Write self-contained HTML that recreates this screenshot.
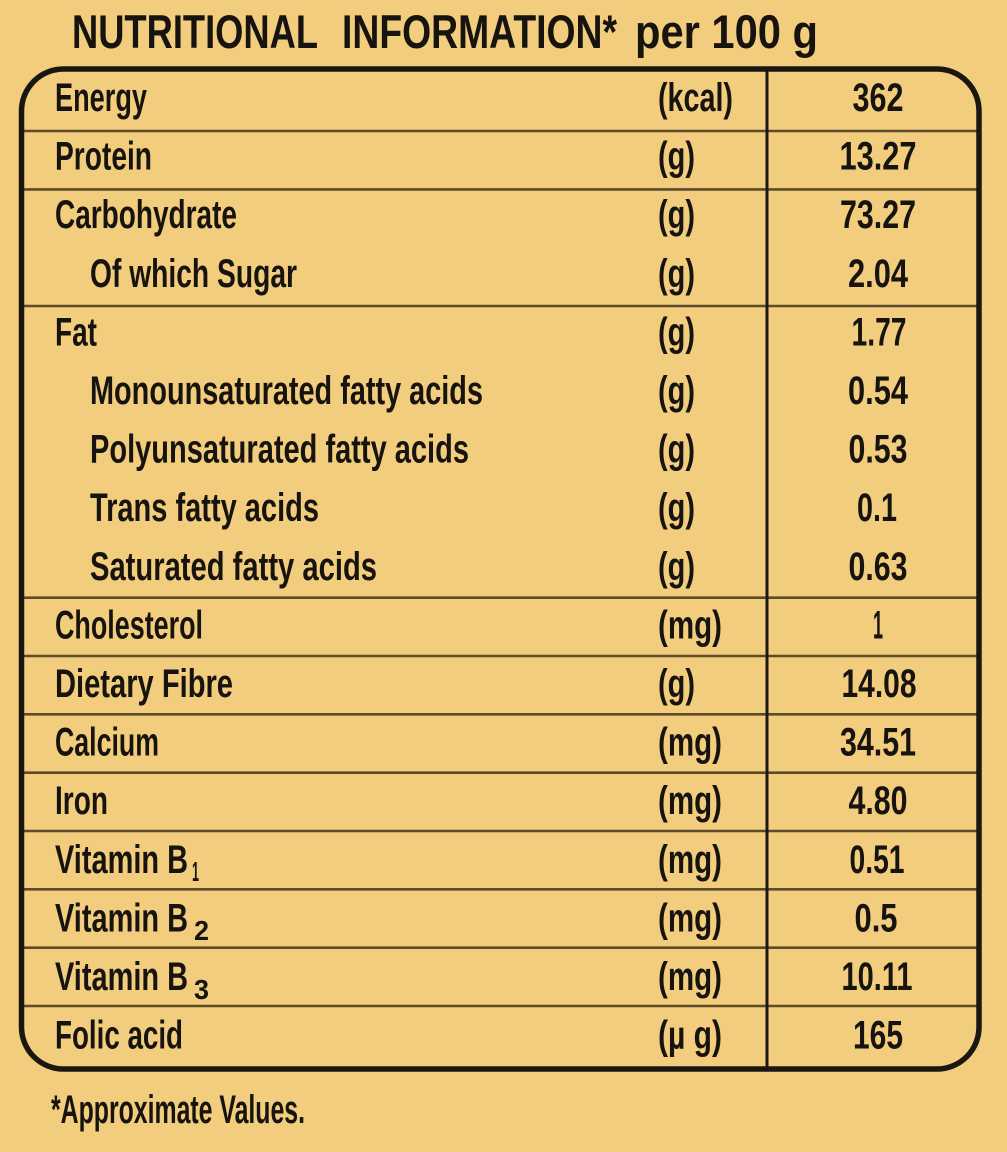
<!DOCTYPE html>
<html>
<head>
<meta charset="utf-8">
<style>
  html,body{margin:0;padding:0;background:#f2cd7e;}
  svg{display:block;}
  text{font-family:"Liberation Sans",sans-serif;font-weight:bold;fill:#17140f;}
</style>
</head>
<body>
<svg width="1007" height="1152" viewBox="0 0 1007 1152" xmlns="http://www.w3.org/2000/svg">
  <rect x="0" y="0" width="1007" height="1152" fill="#f2cd7e"/>

  <!-- Title -->
  <text x="72" y="48" font-size="47" textLength="246" lengthAdjust="spacingAndGlyphs">NUTRITIONAL</text>
  <text x="342" y="48" font-size="47" textLength="275" lengthAdjust="spacingAndGlyphs">INFORMATION*</text>
  <text x="635" y="48" font-size="47" textLength="183" lengthAdjust="spacingAndGlyphs">per 100 g</text>

  <!-- Row separators -->
  <g stroke="#5e4b2b" stroke-width="2.6">
    <line x1="22" y1="131" x2="979" y2="131"/>
    <line x1="22" y1="189.4" x2="979" y2="189.4"/>
    <line x1="22" y1="306" x2="979" y2="306"/>
    <line x1="22" y1="597.7" x2="979" y2="597.7"/>
    <line x1="22" y1="656" x2="979" y2="656"/>
    <line x1="22" y1="714.3" x2="979" y2="714.3"/>
    <line x1="22" y1="772.7" x2="979" y2="772.7"/>
    <line x1="22" y1="831" x2="979" y2="831"/>
    <line x1="22" y1="889.3" x2="979" y2="889.3"/>
    <line x1="22" y1="947.7" x2="979" y2="947.7"/>
    <line x1="22" y1="1006" x2="979" y2="1006"/>
  </g>

  <!-- Vertical divider -->
  <line x1="767" y1="70" x2="767" y2="1068" stroke="#1c1915" stroke-width="3"/>

  <!-- Outer border -->
  <rect x="21.5" y="69" width="957.5" height="1000" rx="42" ry="42" fill="none" stroke="#1a1713" stroke-width="5.5"/>

  <!-- Labels -->
  <g font-size="40">
    <text x="55" y="111" textLength="92" lengthAdjust="spacingAndGlyphs">Energy</text>
    <text x="55" y="169.6" textLength="97" lengthAdjust="spacingAndGlyphs">Protein</text>
    <text x="55" y="228.2" textLength="182" lengthAdjust="spacingAndGlyphs">Carbohydrate</text>
    <text x="90" y="286.8" textLength="207" lengthAdjust="spacingAndGlyphs">Of which Sugar</text>
    <text x="55" y="345.4" textLength="42" lengthAdjust="spacingAndGlyphs">Fat</text>
    <text x="90" y="404" textLength="393" lengthAdjust="spacingAndGlyphs">Monounsaturated fatty acids</text>
    <text x="90" y="462.6" textLength="379" lengthAdjust="spacingAndGlyphs">Polyunsaturated fatty acids</text>
    <text x="90" y="521.2" textLength="229" lengthAdjust="spacingAndGlyphs">Trans fatty acids</text>
    <text x="90" y="579.8" textLength="287" lengthAdjust="spacingAndGlyphs">Saturated fatty acids</text>
    <text x="55" y="638.4" textLength="148" lengthAdjust="spacingAndGlyphs">Cholesterol</text>
    <text x="55" y="697" textLength="178" lengthAdjust="spacingAndGlyphs">Dietary Fibre</text>
    <text x="55" y="755.6" textLength="104" lengthAdjust="spacingAndGlyphs">Calcium</text>
    <text x="55" y="814.2" textLength="53" lengthAdjust="spacingAndGlyphs">Iron</text>
    <text x="55" y="872.8" textLength="133" lengthAdjust="spacingAndGlyphs">Vitamin B</text>
    <text x="55" y="931.4" textLength="133" lengthAdjust="spacingAndGlyphs">Vitamin B</text>
    <text x="55" y="990" textLength="133" lengthAdjust="spacingAndGlyphs">Vitamin B</text>
    <text x="55" y="1048.6" textLength="128" lengthAdjust="spacingAndGlyphs">Folic acid</text>
  </g>
  <!-- Subscripts -->
  <g font-size="28">
    <text x="192" y="881" textLength="7" lengthAdjust="spacingAndGlyphs">1</text>
    <text x="194" y="940" textLength="15" lengthAdjust="spacingAndGlyphs">2</text>
    <text x="194" y="999" textLength="15" lengthAdjust="spacingAndGlyphs">3</text>
  </g>

  <!-- Units -->
  <g font-size="40">
    <text x="658" y="111" textLength="75" lengthAdjust="spacingAndGlyphs">(kcal)</text>
    <text x="658" y="169.6" textLength="37" lengthAdjust="spacingAndGlyphs">(g)</text>
    <text x="658" y="228.2" textLength="37" lengthAdjust="spacingAndGlyphs">(g)</text>
    <text x="658" y="286.8" textLength="37" lengthAdjust="spacingAndGlyphs">(g)</text>
    <text x="658" y="345.4" textLength="37" lengthAdjust="spacingAndGlyphs">(g)</text>
    <text x="658" y="404" textLength="37" lengthAdjust="spacingAndGlyphs">(g)</text>
    <text x="658" y="462.6" textLength="37" lengthAdjust="spacingAndGlyphs">(g)</text>
    <text x="658" y="521.2" textLength="37" lengthAdjust="spacingAndGlyphs">(g)</text>
    <text x="658" y="579.8" textLength="37" lengthAdjust="spacingAndGlyphs">(g)</text>
    <text x="658" y="638.4" textLength="64" lengthAdjust="spacingAndGlyphs">(mg)</text>
    <text x="658" y="697" textLength="37" lengthAdjust="spacingAndGlyphs">(g)</text>
    <text x="658" y="755.6" textLength="64" lengthAdjust="spacingAndGlyphs">(mg)</text>
    <text x="658" y="814.2" textLength="64" lengthAdjust="spacingAndGlyphs">(mg)</text>
    <text x="658" y="872.8" textLength="64" lengthAdjust="spacingAndGlyphs">(mg)</text>
    <text x="658" y="931.4" textLength="64" lengthAdjust="spacingAndGlyphs">(mg)</text>
    <text x="658" y="990" textLength="64" lengthAdjust="spacingAndGlyphs">(mg)</text>
    <text x="658" y="1048.6" textLength="64" lengthAdjust="spacingAndGlyphs">(µ g)</text>
  </g>

  <!-- Values -->
  <g font-size="40" text-anchor="middle">
    <text x="878" y="111" textLength="51" lengthAdjust="spacingAndGlyphs">362</text>
    <text x="878" y="169.6" textLength="77" lengthAdjust="spacingAndGlyphs">13.27</text>
    <text x="878" y="228.2" textLength="76" lengthAdjust="spacingAndGlyphs">73.27</text>
    <text x="878" y="286.8" textLength="60" lengthAdjust="spacingAndGlyphs">2.04</text>
    <text x="879" y="345.4" textLength="55" lengthAdjust="spacingAndGlyphs">1.77</text>
    <text x="878" y="404" textLength="60" lengthAdjust="spacingAndGlyphs">0.54</text>
    <text x="878" y="462.6" textLength="59" lengthAdjust="spacingAndGlyphs">0.53</text>
    <text x="877" y="521.2" textLength="40" lengthAdjust="spacingAndGlyphs">0.1</text>
    <text x="878" y="579.8" textLength="59" lengthAdjust="spacingAndGlyphs">0.63</text>
    <text x="878" y="638.4" textLength="10" lengthAdjust="spacingAndGlyphs">1</text>
    <text x="879" y="697" textLength="75" lengthAdjust="spacingAndGlyphs">14.08</text>
    <text x="878" y="755.6" textLength="76" lengthAdjust="spacingAndGlyphs">34.51</text>
    <text x="878" y="814.2" textLength="59" lengthAdjust="spacingAndGlyphs">4.80</text>
    <text x="877" y="872.8" textLength="55" lengthAdjust="spacingAndGlyphs">0.51</text>
    <text x="876" y="931.4" textLength="43" lengthAdjust="spacingAndGlyphs">0.5</text>
    <text x="877" y="990" textLength="71" lengthAdjust="spacingAndGlyphs">10.11</text>
    <text x="878" y="1048.6" textLength="50" lengthAdjust="spacingAndGlyphs">165</text>
  </g>

  <!-- Footer -->
  <text x="51" y="1123" font-size="40" textLength="254" lengthAdjust="spacingAndGlyphs">*Approximate Values.</text>
</svg>
</body>
</html>
